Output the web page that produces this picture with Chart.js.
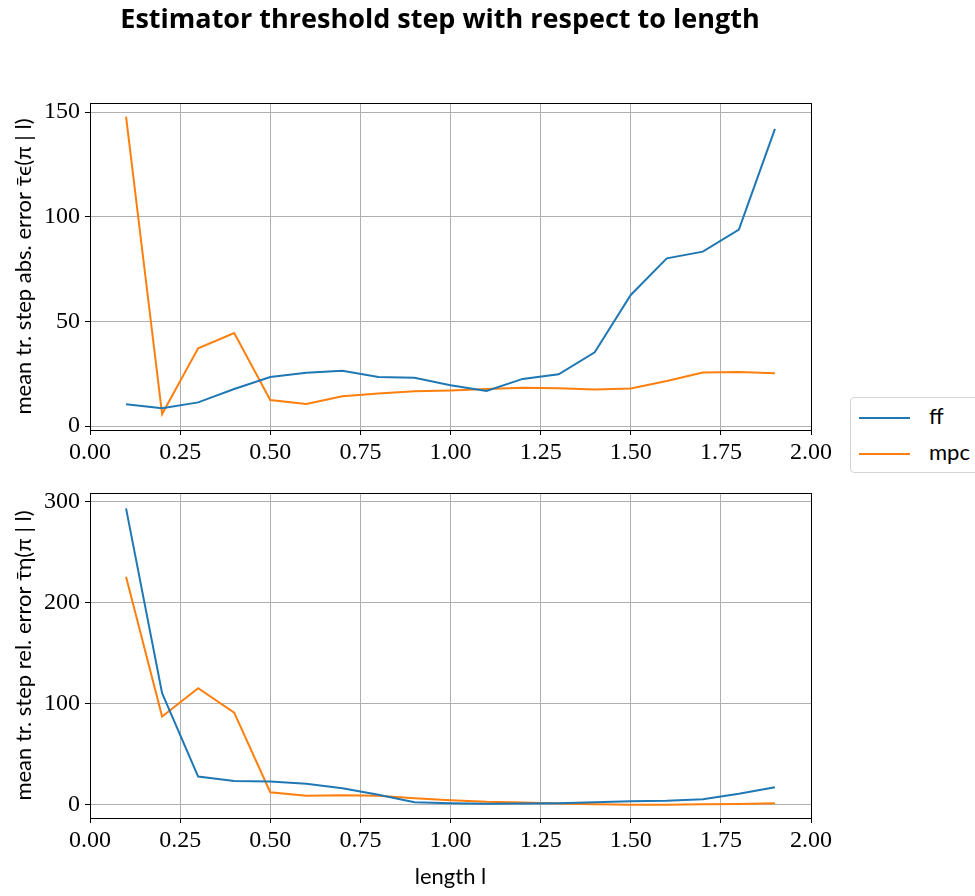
<!DOCTYPE html>
<html>
<head>
<meta charset="utf-8">
<script src="https://cdn.jsdelivr.net/npm/chart.js@4.4.0/dist/chart.umd.min.js"></script>
<style>
  html, body { margin: 0; padding: 0; background: #fff; overflow: hidden; }
  #page { position: relative; width: 975px; height: 896px; overflow: hidden; }
  #top-chart { position: absolute; left: 0; top: 0; }
  #bottom-chart { position: absolute; left: 0; top: 470px; }
  #legend {
    position: absolute; left: 850px; top: 397px; width: 150px; height: 74px;
    border: 1px solid #d5d5d5; border-radius: 4px; background: #fff;
    font-family: Lato, sans-serif; font-size: 22px; color: #000;
  }
  #legend .item { position: absolute; left: 0; height: 24px; }
  #legend .swatch { position: absolute; left: 8px; width: 51px; height: 2px; }
  #legend .label { position: absolute; left: 78px; top: -15px; white-space: nowrap; }
</style>
</head>
<body>
<div id="page">
  <canvas id="top-chart" width="880" height="465"></canvas>
  <canvas id="bottom-chart" width="880" height="426"></canvas>
  <div id="legend"></div>
</div>
<script>
// lengths l on the x axis
const lengths = [0.1, 0.2, 0.3, 0.4, 0.5, 0.6, 0.7, 0.8, 0.9, 1.0, 1.1, 1.2, 1.3, 1.4, 1.5, 1.6, 1.7, 1.8, 1.9];

// mean threshold step absolute error
const ffAbs  = [10.4, 8.5, 11.3, 17.7, 23.4, 25.5, 26.4, 23.4, 23.1, 19.5, 16.7, 22.5, 24.7, 35.2, 62.6, 80.1, 83.3, 93.8, 141.9];
const mpcAbs = [147.8, 5.7, 37.1, 44.4, 12.4, 10.5, 14.2, 15.5, 16.6, 17.0, 17.7, 18.3, 18.0, 17.4, 17.9, 21.5, 25.6, 25.8, 25.2];

// mean threshold step relative error
const ffRel  = [293.4, 110.5, 28.0, 23.7, 23.1, 20.8, 16.5, 9.9, 2.6, 1.6, 1.0, 1.3, 1.6, 2.6, 3.6, 4.0, 5.6, 10.9, 17.5];
const mpcRel = [225.8, 87.4, 115.4, 91.3, 12.5, 8.9, 9.6, 8.9, 6.6, 4.6, 3.0, 2.3, 1.3, 0.7, 0.2, 0.2, 0.5, 0.8, 1.5];

const seriesNames = ["ff", "mpc"];
const xTicks = [0, 0.25, 0.5, 0.75, 1.0, 1.25, 1.5, 1.75, 2.0];
const absTicks = [0, 50, 100, 150];
const relTicks = [0, 100, 200, 300];

const blue = "#1f77b4";
const orange = "#ff7f0e";
const gridColor = "#b0b0b0";
const tickFont = { family: "'Liberation Serif', serif", size: 24 };
const labelFont = { family: "Lato, sans-serif", size: 22 };

// black box around the plot area, like matplotlib spines
const framePlugin = {
    id: "frame",
    afterDatasetsDraw(chart) {
        const { ctx, chartArea: a } = chart;
        const l = Math.round(a.left), t = Math.round(a.top);
        const r = Math.round(a.right), b = Math.round(a.bottom);
        ctx.save();
        ctx.strokeStyle = "#000";
        ctx.lineWidth = 1;
        ctx.strokeRect(l + 0.5, t + 0.5, r - l, b - t);
        ctx.restore();
    }
};

function toPoints(values) {
    return values.map((v, i) => ({ x: lengths[i], y: v }));
}

function makeChart(canvas, ffValues, mpcValues, yTicks, yMin, yMax, yTitle, extra) {
    return new Chart(canvas, {
        type: "line",
        data: {
            datasets: [
                { label: seriesNames[0], data: toPoints(ffValues), borderColor: blue, backgroundColor: blue },
                { label: seriesNames[1], data: toPoints(mpcValues), borderColor: orange, backgroundColor: orange }
            ]
        },
        options: {
            responsive: false,
            animation: false,
            layout: { padding: { left: 0, right: 0, top: extra.padTop, bottom: 0 } },
            elements: {
                line: { borderWidth: 2, tension: 0 },
                point: { radius: 0, hoverRadius: 0 }
            },
            plugins: {
                legend: { display: false },
                tooltip: { enabled: false },
                title: extra.title
            },
            scales: {
                x: {
                    type: "linear",
                    min: 0,
                    max: 2,
                    afterBuildTicks: s => { s.ticks = xTicks.map(v => ({ value: v })); },
                    // keep the plot right edge at 811px, leaving room for the legend
                    afterFit: s => { s.height = extra.xHeight; s.paddingLeft = 0; s.paddingRight = 69; },
                    ticks: {
                        color: "#000",
                        font: tickFont,
                        padding: 3,
                        maxRotation: 0,
                        callback: v => v.toFixed(2)
                    },
                    grid: { color: gridColor, lineWidth: 1, drawTicks: true, tickLength: 5, tickColor: "#000" },
                    border: { display: false },
                    title: extra.xTitle
                },
                y: {
                    type: "linear",
                    min: yMin,
                    max: yMax,
                    afterBuildTicks: s => { s.ticks = yTicks.map(v => ({ value: v })); },
                    afterFit: s => { s.width = 90; s.paddingTop = 0; s.paddingBottom = 0; },
                    ticks: { color: "#000", font: tickFont, padding: 5 },
                    grid: { color: gridColor, lineWidth: 1, drawTicks: true, tickLength: 5, tickColor: "#000" },
                    border: { display: false },
                    title: {
                        display: true,
                        text: yTitle,
                        color: "#000",
                        font: labelFont,
                        padding: { top: 11, bottom: 0 }
                    }
                }
            }
        },
        plugins: [framePlugin]
    });
}

const topChart = makeChart(
    document.getElementById("top-chart"),
    ffAbs, mpcAbs, absTicks, -1.9, 154.3,
    "mean tr. step abs. error τ̄ϵ(π | l)",
    {
        padTop: 0,
        xHeight: 35,
        title: {
            display: true,
            text: "Estimator threshold step with respect to length",
            color: "#000",
            font: { family: "'Open Sans', sans-serif", size: 27, weight: "bold" },
            padding: { top: 4, bottom: 66.6 }
        },
        xTitle: { display: false }
    }
);

makeChart(
    document.getElementById("bottom-chart"),
    ffRel, mpcRel, relTicks, -13, 308.6,
    "mean tr. step rel. error τ̄η(π | l)",
    {
        padTop: 23,
        xHeight: 78,
        title: { display: false },
        xTitle: {
            display: true,
            text: "length l",
            color: "#000",
            font: labelFont,
            padding: { top: 0, bottom: 6 }
        }
    }
);

// legend box to the right of the plots, built from the chart's datasets
const legendBox = document.getElementById("legend");
topChart.data.datasets.forEach((ds, i) => {
    const item = document.createElement("div");
    item.className = "item";
    item.style.top = (19 + i * 36) + "px";
    item.innerHTML = `<div class="swatch" style="background:${ds.borderColor}"></div>
                      <div class="label">${ds.label}</div>`;
    legendBox.appendChild(item);
});
</script>
</body>
</html>
